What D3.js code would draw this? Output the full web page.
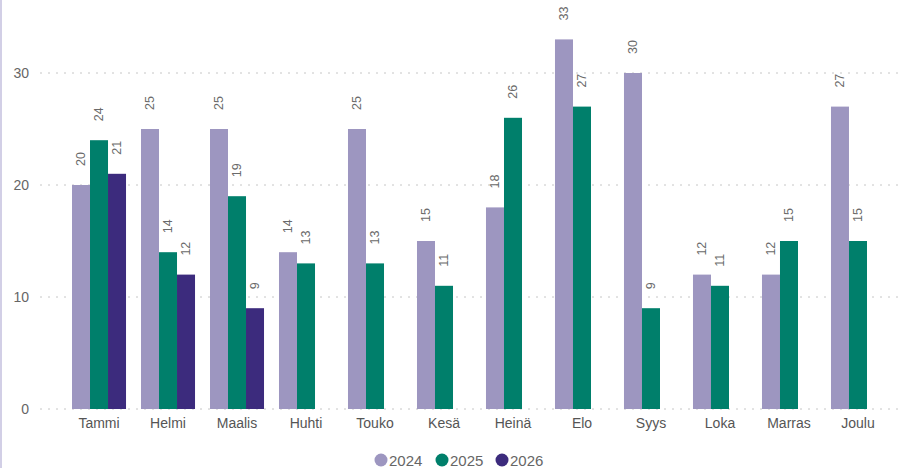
<!DOCTYPE html>
<html>
<head>
<meta charset="utf-8">
<script src="https://cdn.jsdelivr.net/npm/d3@7"></script>
<style>
  html, body { margin: 0; padding: 0; background: #fff; }
  svg { display: block; font-family: "Liberation Sans", Arial, sans-serif; }
</style>
</head>
<body>
<svg id="chart" width="904" height="468"></svg>
<script>
const months = ["Tammi","Helmi","Maalis","Huhti","Touko","Kesä","Heinä","Elo","Syys","Loka","Marras","Joulu"];
const seriesNames = ["2024","2025","2026"];
const values2024 = [20,25,25,14,25,15,18,33,30,12,12,27];
const values2025 = [24,14,19,13,13,11,26,27,9,11,15,15];
const values2026 = [21,12,9,null,null,null,null,null,null,null,null,null];
const yTicks = [0,10,20,30];
const colors = ["#9d96c0","#007f6b","#3c2b7d"];

const seriesValues = [values2024, values2025, values2026];
const svg = d3.select("#chart");

// left border
svg.append("line").attr("x1",1).attr("x2",1).attr("y1",0).attr("y2",468)
  .attr("stroke","#d2cfe6").attr("stroke-width",2);

const x = d3.scaleBand().domain(months).range([64.5, 892.5])
  .paddingInner(0.217).paddingOuter(0.1087);
const xs = d3.scaleBand().domain(seriesNames).range([0, x.bandwidth()]);
const y = d3.scaleLinear().domain([0,30]).range([409,73]);

// gridlines
svg.append("g").selectAll("line").data(yTicks).join("line")
  .attr("x1",40).attr("x2",904)
  .attr("y1",d=>y(d)).attr("y2",d=>y(d))
  .attr("stroke","#c6c6c6").attr("stroke-width",1)
  .attr("stroke-dasharray","2,6");

// y axis
const yAxis = svg.append("g").attr("transform","translate(40,0)")
  .call(d3.axisLeft(y).tickValues(yTicks).tickSize(0).tickPadding(11));
yAxis.select(".domain").remove();
yAxis.selectAll("text").attr("fill","#666").style("font-size","14px");

// x axis
const xAxis = svg.append("g").attr("transform","translate(0,409)")
  .call(d3.axisBottom(x).tickSize(0).tickPadding(9));
xAxis.select(".domain").remove();
xAxis.selectAll("text").attr("fill","#555").style("font-size","14px");

// bars
const flat = [];
months.forEach((m,i)=>{
  seriesNames.forEach((s,j)=>{
    const v = seriesValues[j][i];
    if (v != null) flat.push({m, s, j, v});
  });
});

svg.append("g").selectAll("rect").data(flat).join("rect")
  .attr("x",d=>x(d.m)+xs(d.s))
  .attr("width",xs.bandwidth())
  .attr("y",d=>y(d.v))
  .attr("height",d=>y(0)-y(d.v))
  .attr("fill",d=>colors[d.j]);

svg.append("g").selectAll("text").data(flat).join("text")
  .attr("transform",d=>`translate(${x(d.m)+xs(d.s)+xs.bandwidth()/2},${y(d.v)-19}) rotate(-90)`)
  .attr("text-anchor","start")
  .attr("dominant-baseline","central")
  .attr("fill","#6a6a6a")
  .style("font-size","12.5px")
  .text(d=>d.v);

// legend
const legendX = [381, 442, 502];
const lg = svg.append("g").selectAll("g").data(seriesNames).join("g")
  .attr("transform",(d,i)=>`translate(${legendX[i]},460)`);
lg.append("circle").attr("r",6.5).attr("fill",(d,i)=>colors[i]);
lg.append("text").attr("x",8).attr("dominant-baseline","central")
  .attr("fill","#666").style("font-size","15px").text(d=>d);
</script>
</body>
</html>
